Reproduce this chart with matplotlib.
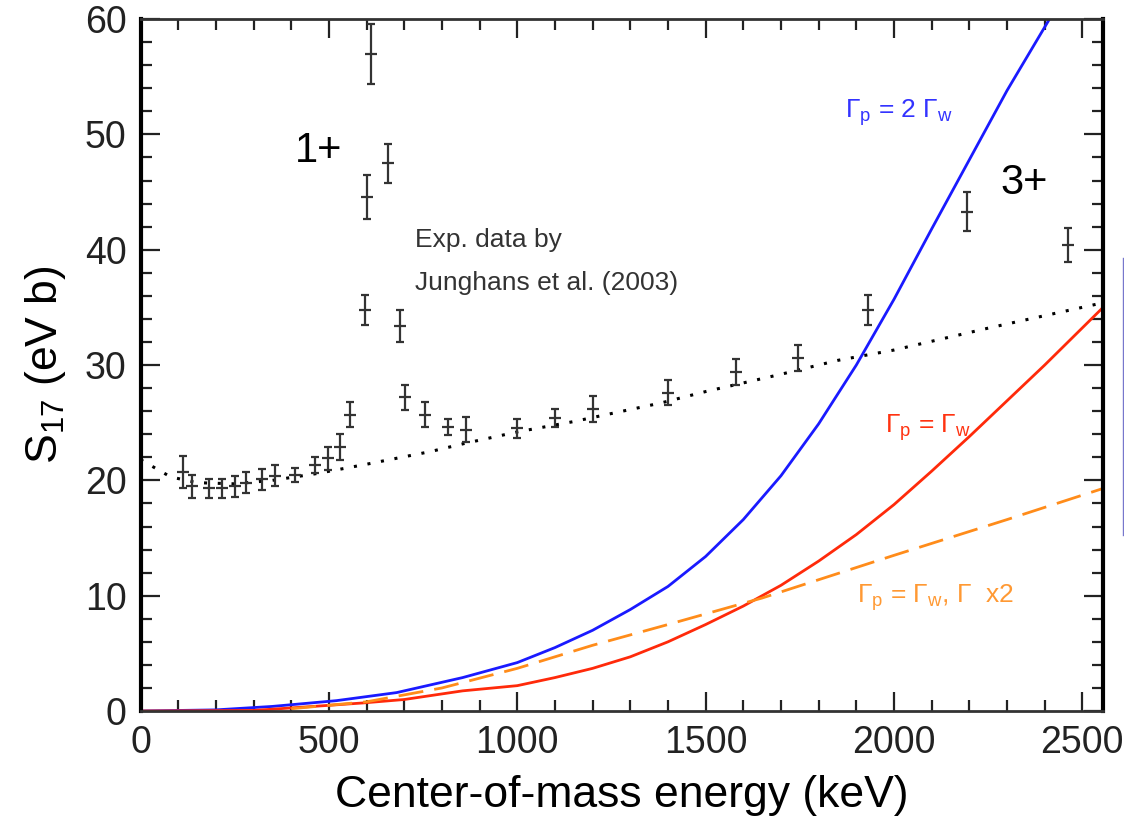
import matplotlib
matplotlib.use("Agg")
from matplotlib import pyplot as plt
from matplotlib.lines import Line2D
from matplotlib.ticker import MultipleLocator
import numpy as np

plt.rcParams['font.family'] = ['Liberation Sans', 'DejaVu Sans']
plt.rcParams['mathtext.fontset'] = 'custom'
plt.rcParams['mathtext.rm'] = 'Liberation Sans'
plt.rcParams['mathtext.it'] = 'Liberation Sans:italic'

# experimental data (Junghans et al. 2003): energy keV, S17 eV b, error
exp_e = [114, 138, 182, 217, 252, 279, 322, 357, 410, 463, 498, 529, 555,
         595, 600, 613, 656, 688, 703, 754, 815, 865, 1000, 1099, 1200,
         1400, 1580, 1745, 1930, 2195, 2461]
exp_s = [20.7, 19.5, 19.3, 19.3, 19.5, 19.8, 20.1, 20.4, 20.5, 21.3, 21.9,
         22.9, 25.7, 34.8, 44.6, 57.0, 47.5, 33.4, 27.2, 25.7, 24.6, 24.4,
         24.5, 25.4, 26.2, 27.6, 29.4, 30.6, 34.8, 43.3, 40.4]
exp_err = [1.4, 1.0, 0.8, 0.8, 0.9, 0.9, 0.9, 0.9, 0.6, 0.7, 1.0, 1.1, 1.1,
           1.3, 1.9, 2.6, 1.7, 1.4, 1.1, 1.1, 0.7, 1.1, 0.8, 0.8, 1.1, 1.1,
           1.1, 1.1, 1.3, 1.7, 1.5]

# non-resonant fit (dotted)
fit_e = [0, 80, 150, 250, 350, 470, 600, 770, 860, 1000, 1150, 1380, 1500,
         1700, 1850, 2000, 2250, 2555]
fit_s = [21.8, 20.3, 19.8, 19.7, 20.0, 20.6, 21.4, 22.5, 23.2, 24.2, 25.1,
         26.7, 27.7, 29.2, 30.4, 31.3, 33.2, 35.4]

# model curves
blue_e = [0, 200, 350, 520, 680, 855, 1000, 1100, 1200, 1300, 1400, 1500,
          1600, 1700, 1800, 1900, 2000, 2100, 2200, 2300, 2400, 2440]
blue_s = [0, 0.1, 0.4, 0.9, 1.6, 2.9, 4.2, 5.5, 7.0, 8.8, 10.8, 13.4,
          16.6, 20.4, 24.9, 30.0, 35.7, 41.8, 47.8, 53.8, 59.3, 61.5]
red_e = [0, 300, 414, 590, 700, 855, 1000, 1100, 1200, 1300, 1400, 1500,
         1600, 1700, 1800, 1900, 2000, 2100, 2200, 2300, 2400, 2555]
red_s = [0, 0.05, 0.3, 0.7, 1.0, 1.75, 2.2, 2.9, 3.7, 4.7, 6.0, 7.5,
         9.1, 10.9, 13.0, 15.3, 17.9, 20.8, 23.8, 26.9, 30.0, 35.0]
orange_e = [400, 600, 800, 1000, 1200, 1400, 1650, 2000, 2300, 2555]
orange_s = [0.2, 0.8, 2.0, 3.7, 5.7, 7.5, 9.8, 13.5, 16.6, 19.3]

fig = plt.figure(figsize=(11.24, 8.17), dpi=100)
ax = fig.add_axes([0.125, 0.1297, 0.8564, 0.847])

ax.plot(fit_e, fit_s, color='black', linestyle=(0, (1, 3.5)), linewidth=2.2)
ax.plot(blue_e, blue_s, color='#1a1aff', linewidth=2)
ax.plot(red_e, red_s, color='#ff2a0a', linewidth=2)
ax.plot(orange_e, orange_s, color='#ff8c1a', linewidth=2,
        linestyle=(0, (9, 4)))
ax.errorbar(exp_e, exp_s, yerr=exp_err, fmt='_', color='#333333',
            markersize=9, markeredgewidth=1.6, elinewidth=1.6, capsize=3,
            capthick=1.6)

ax.text(410, 47.6, '1+', fontsize=30)
ax.text(2282, 44.8, '3+', fontsize=30)
ax.text(729, 40.2, 'Exp. data by', fontsize=19, color='#333333')
ax.text(729, 36.5, 'Junghans et al. (2003)', fontsize=19, color='#333333')
ax.text(1870, 51.4, r'$\Gamma_{\rm p}$ = 2 $\Gamma_{\rm w}$', fontsize=19,
        color='#3333ff')
ax.text(1976, 24.1, r'$\Gamma_{\rm p}$ = $\Gamma_{\rm w}$', fontsize=19,
        color='#ff3311')
ax.text(1902, 9.4, r'$\Gamma_{\rm p}$ = $\Gamma_{\rm w}$, $\Gamma$  x2',
        fontsize=19, color='#ff9933')

ax.set_xlim(0, 2555)
ax.set_ylim(0, 60)
ax.xaxis.set_major_locator(MultipleLocator(500))
ax.xaxis.set_minor_locator(MultipleLocator(100))
ax.yaxis.set_major_locator(MultipleLocator(10))
ax.yaxis.set_minor_locator(MultipleLocator(2))
ax.tick_params(which='both', direction='in', top=True, right=True,
               labelsize=27, pad=10, colors='#222222', width=1.6)
ax.tick_params(which='major', length=14)
ax.tick_params(which='minor', length=8)
for side, lw in [('left', 3), ('right', 3), ('top', 2), ('bottom', 2)]:
    ax.spines[side].set_linewidth(lw)
ax.spines['top'].set_color('#333333')
ax.spines['bottom'].set_color('#333333')

ax.set_xlabel('Center-of-mass energy (keV)', fontsize=32, labelpad=10)
ax.set_ylabel(r'S$_{17}$ (eV b)', fontsize=32, labelpad=12)

# thin stray frame line at the right edge of the picture
fig.add_artist(Line2D([0.9995, 0.9995], [1 - 258 / 817, 1 - 535 / 817],
                      transform=fig.transFigure, color='#7777cc',
                      linewidth=1))

fig.savefig('out.png', dpi=100)
